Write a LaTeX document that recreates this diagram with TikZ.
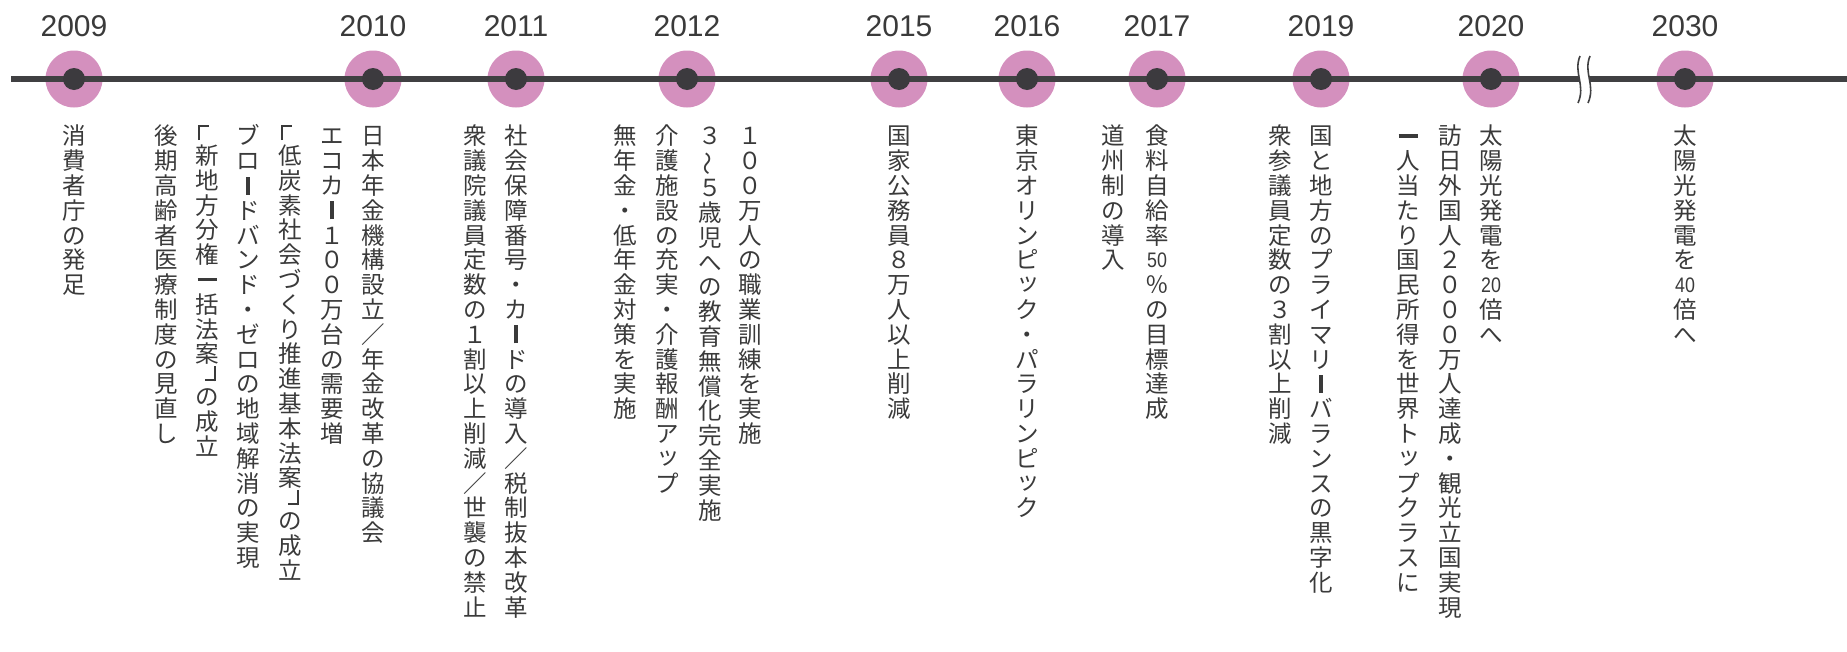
\documentclass[tikz,border=0pt]{standalone}
\usepackage{tikz}
\usepackage{fontspec}
\usepackage{graphicx}
\newfontfamily\jp{Noto Sans CJK JP}
\newfontfamily\lat{Liberation Sans}
\definecolor{txt}{RGB}{58,58,58}
\definecolor{tline}{RGB}{64,64,66}
\definecolor{pinkc}{RGB}{212,144,190}
\definecolor{dotc}{RGB}{60,58,62}
\newcommand\vstrut{\rule[-3.5pt]{0pt}{24.8pt}}
\newcommand\VB{\rule{3.3pt}{18pt}}
\newcommand\ICHI{\rule[7.3pt]{19pt}{3.3pt}}
\newcommand\LQ{\relax}
\newcommand\RQ{\relax}
\newcommand\mylq{\hbox to 26pt{\hss\kern-7pt\rlap{\rule{2pt}{15pt}}\raisebox{13pt}{\rule{11pt}{2pt}}\hss\rule[-3pt]{0pt}{18pt}}}
\newcommand\myrq{\hbox to 26pt{\hss\rule{11pt}{2pt}\llap{\rule{2pt}{15pt}}\kern-7pt\hss\rule[-3pt]{0pt}{18pt}}}
\newcommand\VT{\rotatebox[origin=c]{90}{～}}
\newcommand\STU{\raisebox{3pt}{\kern2pt ッ}}
\newcommand\TCY[1]{\raisebox{1.5pt}{\scalebox{0.85}[1]{\lat\fontsize{21}{21}\selectfont #1}}}
\ExplSyntaxOn
\NewDocumentCommand\vcol{m}
  {
    \vbox
      {
        \offinterlineskip
        \tl_map_inline:nn {#1}
          {
            \str_case:nnF {##1}
              {
                {\LQ} {\mylq}
                {\RQ} {\myrq}
              }
              { \hbox to 26pt { \hss ##1 \hss \vstrut } }
          }
      }
  }
\ExplSyntaxOff
\tikzset{
  year/.style={font=\lat\fontsize{30}{30}\selectfont, text=txt, inner sep=0pt, anchor=center},
  pinkdot/.style={circle, fill=pinkc, minimum size=57pt, inner sep=0pt},
  darkdot/.style={circle, fill=dotc, minimum size=22pt, inner sep=0pt},
  tl/.style={draw=tline, line width=6pt},
  col/.style={font=\jp\fontsize{23.5}{24.8}\selectfont, text=txt, inner sep=0pt, anchor=north},
  brk/.style={draw=tline, line width=1.6pt},
}
\begin{document}
\begin{tikzpicture}[x=1pt,y=-1pt]
\useasboundingbox (0,0) rectangle (1847,651);
% years, markers
\foreach \yr/\xx in {2009/74,2010/373,2011/516,2012/687,2015/899,2016/1027,2017/1157,2019/1321,2020/1491,2030/1685}{
  \node[year] (y\yr) at (\xx,26) {\yr};
  \node[pinkdot] (p\yr) at (\xx,79) {};
}
\coordinate (lstart) at (11,79);
\coordinate (lend) at (1847,79);
\draw[tl] (lstart) -- (lend);
% break mark
\fill[white] (1580,56) .. controls (1573,73) and (1586,85) .. (1578,103) -- (1588,103) .. controls (1596,85) and (1583,73) .. (1590,56) -- cycle;
\draw[brk] (1580,56) .. controls (1573,73) and (1586,85) .. (1578,103);
\draw[brk] (1590,56) .. controls (1583,73) and (1596,85) .. (1588,103);
\foreach \yr/\xx in {2009/74,2010/373,2011/516,2012/687,2015/899,2016/1027,2017/1157,2019/1321,2020/1491,2030/1685}{
  \node[darkdot] (d\yr) at (\xx,79) {};
}
% columns
\node[col] (c01) at (74,123.4) {\vcol{消費者庁の発足}};
\node[col] (c02) at (373,123.4) {\vcol{日本年金機構設立／年金改革の協議会}};
\node[col] (c03) at (332,123.4) {\vcol{エコカ\VB １００万台の需要増}};
\node[col] (c04) at (290,125) {\vcol{\LQ 低炭素社会づくり推進基本法案\RQ の成立}};
\node[col] (c05) at (248,123.4) {\vcol{ブロ\VB ドバンド・ゼロの地域解消の実現}};
\node[col] (c06) at (207,125) {\vcol{\LQ 新地方分権\ICHI 括法案\RQ の成立}};
\node[col] (c07) at (166,123.4) {\vcol{後期高齢者医療制度の見直し}};
\node[col] (c08) at (516,123.4) {\vcol{社会保障番号・カ\VB ドの導入／税制抜本改革}};
\node[col] (c09) at (475,123.4) {\vcol{衆議院議員定数の１割以上削減／世襲の禁止}};
\node[col] (c10) at (750,123.4) {\vcol{１００万人の職業訓練を実施}};
\node[col] (c11) at (710,123.4) {\vcol{３\VT ５歳児への教育無償化完全実施}};
\node[col] (c12) at (667,123.4) {\vcol{介護施設の充実・介護報酬ア\STU プ}};
\node[col] (c13) at (625,123.4) {\vcol{無年金・低年金対策を実施}};
\node[col] (c14) at (899,123.4) {\vcol{国家公務員８万人以上削減}};
\node[col] (c15) at (1027,123.4) {\vcol{東京オリンピ\STU ク・パラリンピ\STU ク}};
\node[col] (c16) at (1157,123.4) {\vcol{食料自給率{\TCY{50}}％の目標達成}};
\node[col] (c17) at (1113,123.4) {\vcol{道州制の導入}};
\node[col] (c18) at (1321,123.4) {\vcol{国と地方のプライマリ\VB バランスの黒字化}};
\node[col] (c19) at (1280,123.4) {\vcol{衆参議員定数の３割以上削減}};
\node[col] (c20) at (1491,123.4) {\vcol{太陽光発電を{\TCY{20}}倍へ}};
\node[col] (c21) at (1450,123.4) {\vcol{訪日外国人２０００万人達成・観光立国実現}};
\node[col] (c22) at (1408,123.4) {\vcol{\ICHI 人当たり国民所得を世界ト\STU プクラスに}};
\node[col] (c23) at (1685,123.4) {\vcol{太陽光発電を{\TCY{40}}倍へ}};
\end{tikzpicture}
\end{document}
